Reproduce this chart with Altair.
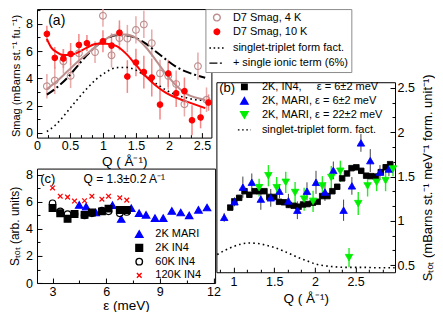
import altair as alt
import pandas as pd

FONT = "Liberation Sans"

# ---------------- panel (a): D7 S_mag ----------------
a4_q = [0.15, 0.27, 0.40, 0.51, 0.635, 0.88, 1.0, 1.13, 1.25, 1.37, 1.5, 1.62, 1.74, 1.865, 1.99, 2.11, 2.235, 2.44, 2.57]
a4_s = [3.42, 3.84, 5.25, 4.18, 5.84, 5.92, 8.59, 5.69, 6.95, 6.92, 7.55, 7.95, 6.58, 4.36, 4.18, 3.58, 2.1, 4.89, 2.43]
a4_err = [0.9, 1.0, 0.9, 0.9, 0.9, 0.8, 0.8, 0.9, 0.9, 1.0, 1.0, 1.0, 1.0, 1.0, 1.0, 1.0, 0.9, 1.0, 0.9]
a10_q = [0.15, 0.27, 0.40, 0.51, 0.635, 0.757, 1.0, 1.13, 1.25, 1.37, 1.5, 1.62, 1.74, 1.865, 1.99, 2.11, 2.235, 2.35, 2.48, 2.6]
a10_s = [7.26, 5.5, 5.45, 5.79, 6.45, 6.58, 6.72, 6.4, 7.35, 4.13, 5.16, 4.46, 4.06, 2.07, 4.36, 2.9, 3.06, 0.92, 1.13, 2.22]
a10_err = [0.6, 0.8, 0.7, 0.8, 0.8, 0.6, 0.8, 0.9, 0.9, 1.2, 1.0, 1.2, 1.4, 1.1, 1.0, 1.0, 1.0, 1.1, 0.8, 0.6]
a_curve_q = [0.15, 0.3, 0.45, 0.6, 0.75, 0.9, 1.05, 1.2, 1.35, 1.5, 1.65, 1.8, 1.95, 2.1, 2.25, 2.4, 2.55]
a_formfactor = [0.1, 0.66, 1.5, 2.38, 3.21, 3.94, 4.46, 4.78, 4.8, 4.6, 4.15, 3.63, 3.16, 2.8, 2.59, 2.43, 2.38]
a_ionic = [2.8, 3.32, 3.99, 4.82, 5.66, 6.38, 6.9, 7.16, 7.16, 6.96, 6.54, 5.97, 5.4, 4.88, 4.51, 4.25, 4.04]
a_fit4 = [3.21, 3.78, 4.46, 5.14, 5.76, 6.38, 6.9, 7.22, 7.22, 6.96, 6.28, 5.34, 4.36, 3.52, 2.9, 2.59, 2.43]
a_fit10_q = [0.15, 0.22, 0.3, 0.4, 0.5, 0.6, 0.75, 0.9, 1.05, 1.2, 1.35, 1.5, 1.65, 1.8, 1.95, 2.1, 2.25, 2.4, 2.55]
a_fit10 = [6.9, 6.23, 5.92, 5.71, 5.71, 5.86, 6.23, 6.54, 6.54, 6.38, 5.81, 4.98, 4.15, 3.47, 2.95, 2.59, 2.33, 2.07, 1.81]
A_SERIES = ["D7 Smag, 4 K", "D7 Smag, 10 K", "singlet-triplet form fact.", "+ single ionic term (6%)"]

# ---------------- panel (b): S_tot vs Q ----------------
b_in4_q = [0.96, 1.01, 1.07, 1.135, 1.195, 1.26, 1.315, 1.38, 1.44, 1.50, 1.56, 1.62, 1.68, 1.74, 1.80, 1.855,
           1.91, 1.975, 2.035, 2.09, 2.155, 2.215, 2.275, 2.335, 2.395, 2.45, 2.51, 2.57, 2.63, 2.69, 2.75, 2.81, 2.87, 2.925]
b_in4_s = [1.15, 1.22, 1.26, 1.335, 1.295, 1.335, 1.335, 1.335, 1.27, 1.27, 1.215, 1.21, 1.18, 1.17, 1.16, 1.185,
           1.19, 1.205, 1.215, 1.28, 1.28, 1.335, 1.385, 1.48, 1.535, 1.595, 1.605, 1.565, 1.51, 1.505, 1.5, 1.55, 1.605, 1.64]
b_m6_q = [0.886, 1.012, 1.115, 1.225, 1.336, 1.458, 1.565, 1.675, 1.785, 1.903, 2.014, 2.124, 2.227, 2.353, 2.455, 2.566, 2.681, 2.80, 2.91]
b_m6_s = [1.04, 1.215, 1.38, 1.435, 1.245, 1.26, 1.335, 1.225, 1.12, 1.335, 1.435, 1.325, 1.57, 1.12, 1.395, 1.88, 1.68, 1.55, 1.585]
b_m6_err = [0.05, 0.05, 0.12, 0.1, 0.12, 0.1, 0.08, 0.08, 0.1, 0.1, 0.13, 0.1, 0.1, 0.12, 0.1, 0.1, 0.13, 0.08, 0.08]
b_m22_q = [1.315, 1.429, 1.531, 1.642, 1.757, 1.868, 1.978, 2.092, 2.202, 2.313, 2.42, 2.533, 2.648, 2.759, 2.869, 2.96]
b_m22_s = [1.375, 1.51, 1.375, 1.435, 1.32, 1.245, 1.22, 1.395, 1.49, 1.56, 0.585, 1.195, 1.395, 1.435, 1.455, 1.585]
b_m22_err = [0.1, 0.12, 0.12, 0.12, 0.12, 0.13, 0.12, 0.11, 0.13, 0.12, 0.11, 0.13, 0.12, 0.1, 0.12, 0.08]
b_ff_q = [0.8, 0.9, 1.0, 1.1, 1.2, 1.3, 1.4, 1.5, 1.6, 1.7, 1.8, 1.9, 2.0, 2.2, 2.4, 2.6, 2.8, 2.98]
b_ff_s = [0.62, 0.67, 0.71, 0.74, 0.75, 0.745, 0.725, 0.70, 0.665, 0.625, 0.585, 0.55, 0.515, 0.485, 0.475, 0.475, 0.47, 0.47]
B_SERIES = ["2K, IN4,\u00a0\u00a0\u00a0\u00a0 \u03b5 = 6\u00b12 meV", "2K, MARI, \u03b5 = 6\u00b12 meV",
            "2K, MARI, \u03b5 = 22\u00b12 meV", "singlet-triplet form. fact."]

# ---------------- panel (c): S_tot vs energy ----------------
c_mari_e = [4.49, 4.88, 5.42, 6.35, 6.84, 7.4, 7.84, 8.23, 8.73, 9.19, 9.67, 10.17, 10.64, 11.16, 11.64]
c_mari_s = [5.77, 5.65, 5.21, 5.75, 4.73, 5.53, 5.16, 5.04, 4.8, 4.8, 5.33, 5.21, 5.0, 5.41, 5.58]
c_in4_e = [3.0, 3.43, 3.84, 4.23, 4.79, 5.2, 5.76, 6.13, 6.76, 7.15]
c_2k_s = [5.55, 5.16, 4.75, 5.1, 5.04, 5.21, 5.3, 5.5, 5.4, 5.4]
c_60k_s = [5.9, 5.3, 5.1, 5.1, 5.0, 5.15, 5.35, 5.3, 5.15, 5.25]
c_120k_s = [7.03, 6.42, 6.35, 6.06, 6.08, 6.42, 6.2, 6.42, 6.3, 6.13]
C_SERIES = ["2K MARI", "2K IN4", "60K IN4", "120K IN4"]

# ---------------- layout: one canvas, one pair of scales per panel ----------------
W, H = 358.2, 274.1
AX = ([0.0, 2.644], [0.0, 174.5])
AY = ([-0.35, 9.08], [128.6, 0.0])
BX = ([0.79, 2.985], [179.5, 358.2])
BY = ([0.42, 2.565], [263.3, 73.2])
CX = ([2.13, 12.09], [0.0, 178.2])
CY = ([0.0, 8.46], [274.1, 159.6])
X_PATH = "M-1,-1L1,1M-1,1L1,-1"


def scale(dom, rng):
    return alt.Scale(domain=dom, range=rng, nice=False, zero=False, clamp=True)


def enc_x(field, sc, axis):
    return alt.X(field, type="quantitative", scale=scale(*sc), axis=axis)


def enc_y(field, sc, axis):
    return alt.Y(field, type="quantitative", scale=scale(*sc), axis=axis)


def lab_axis(orient, offset, values, title, pad, tpad, tsize=13.5, angle=None, baseline=None, ty=None):
    kw = dict(orient=orient, offset=offset, values=values, title=title, labelExpr="'' + datum.value",
              labelPadding=pad, titlePadding=tpad, ticks=False, tickSize=0, domain=True,
              domainColor="black", domainWidth=1, labelFlush=False, labelOverlap=False, grid=False,
              labelFont=FONT, labelFontSize=12.5, labelColor="black", titleFont=FONT,
              titleFontSize=tsize, titleFontWeight="normal", titleColor="black")
    if angle is not None:
        kw["titleAngle"] = angle
    if baseline is not None:
        kw["titleBaseline"] = baseline
    if ty is not None:
        kw["titleY"] = ty
    return alt.Axis(**kw)


def frame_axis(orient, offset):
    return alt.Axis(orient=orient, offset=offset, title="", labels=False, ticks=False, domain=True,
                    domainColor="black", domainWidth=1, grid=False)


def tick_axis(orient, offset, values, test):
    return alt.Axis(orient=orient, offset=offset, title="", labels=False, domain=False, ticks=True,
                    values=values, tickColor="black", tickWidth=1, grid=False,
                    tickSize={"condition": {"test": test, "value": 5}, "value": 3})


def legend(x, y, pad, rowpad, offset, box=False):
    kw = dict(orient="none", legendX=x, legendY=y, title=None, labelFont=FONT, labelFontSize=11,
              labelColor="black", padding=pad, rowPadding=rowpad, labelOffset=offset,
              symbolStrokeWidth=1.4, labelLimit=300)
    if box:
        kw["strokeColor"] = "#8c8c8c"
        kw["fillColor"] = "white"
    return alt.Legend(**kw)


HALF = "abs(datum.value*2 - round(datum.value*2)) < 0.01"
a_xt = [round(i / 6, 4) for i in range(0, 16)]
b_xt = [round(i / 6, 4) for i in range(5, 18)]
b_yt = [round(i / 6, 4) for i in range(3, 16)]

# ---------------- panel (a) layers ----------------
a4_df = pd.DataFrame({"Q": a4_q, "lo": [s - e for s, e in zip(a4_s, a4_err)], "hi": [s + e for s, e in zip(a4_s, a4_err)]})
a10_df = pd.DataFrame({"Q": a10_q, "lo": [s - e for s, e in zip(a10_s, a10_err)], "hi": [s + e for s, e in zip(a10_s, a10_err)]})
a_curves = pd.DataFrame({"Q": a_curve_q, "ff": a_formfactor, "ion": a_ionic, "fit": a_fit4})
a_fit10_df = pd.DataFrame({"Q": a_fit10_q, "fit": a_fit10})
a_pts = pd.DataFrame({"Q": a4_q + a10_q, "S": a4_s + a10_s,
                      "series": [A_SERIES[0]] * len(a4_q) + [A_SERIES[1]] * len(a10_q)})

bars_a4 = alt.Chart(a4_df).mark_rule(color="#e9aaaa", strokeWidth=1.5).encode(
    x=enc_x("Q", AX, lab_axis("bottom", AY[1][0] - H, [0, 0.5, 1, 1.5, 2, 2.5], "Q ( \u00c5\u207b\u00b9)", 2, 2)),
    y=enc_y("lo", AY, lab_axis("left", 0, [0, 2, 4, 6, 8], "Smag (mBarns st.\u207b\u00b9 fu.\u207b\u00b9)",
                               4.5, 4, tsize=11, ty=66.5)),
    y2="hi")
bars_a10 = alt.Chart(a10_df).mark_rule(color="#f28888", strokeWidth=1.5).encode(
    x=enc_x("Q", AX, tick_axis("top", -AY[1][0], a_xt, HALF)),
    y=enc_y("lo", AY, tick_axis("right", -W, list(range(0, 10)), "datum.value % 2 == 0")),
    y2="hi")
ff_a = alt.Chart(a_curves).mark_line(color="black", strokeWidth=1.6, strokeDash=[1.6, 3.2], interpolate="monotone").encode(
    x=enc_x("Q", AX, None), y=enc_y("ff", AY, None))
ion_a = alt.Chart(a_curves).mark_line(color="black", strokeWidth=2, strokeDash=[9, 3, 2, 3], interpolate="monotone").encode(
    x=enc_x("Q", AX, None), y=enc_y("ion", AY, None))
fit4_a = alt.Chart(a_curves).mark_line(color="#bc8f8f", strokeWidth=2, interpolate="monotone").encode(
    x=enc_x("Q", AX, None), y=enc_y("fit", AY, None))
fit10_a = alt.Chart(a_fit10_df).mark_line(color="#ff0000", strokeWidth=2, interpolate="monotone").encode(
    x=enc_x("Q", AX, None), y=enc_y("fit", AY, None))
legA = legend(AX[1][0] + 168.5, 0, 3, 1.2, 7.5, box=True)
pts_a = alt.Chart(a_pts).mark_point(opacity=1, strokeWidth=1.1).encode(
    x=enc_x("Q", AX, frame_axis("top", 0)),
    y=enc_y("S", AY, frame_axis("right", 174.5 - W)),
    fill=alt.Fill("series:N", scale=alt.Scale(domain=A_SERIES, range=["transparent", "#ff0000", "transparent", "transparent"]), legend=legA),
    stroke=alt.Stroke("series:N", scale=alt.Scale(domain=A_SERIES, range=["#bc8f8f", "#ff0000", "black", "black"]), legend=legA),
    shape=alt.Shape("series:N", scale=alt.Scale(domain=A_SERIES, range=["circle", "circle", "stroke", "stroke"]), legend=legA),
    size=alt.Size("series:N", scale=alt.Scale(type="ordinal", domain=A_SERIES, range=[45, 30, 225, 225]), legend=legA),
    strokeDash=alt.StrokeDash("series:N", scale=alt.Scale(domain=A_SERIES, range=[[1, 0], [1, 0], [1.6, 2.6], [8, 2.5, 2, 2.5]]), legend=legA),
)
txt_a = alt.Chart(pd.DataFrame({"Q": [0.17], "S": [8.2], "t": ["(a)"]})).mark_text(
    font=FONT, fontSize=14, align="left", baseline="middle", color="black").encode(
    x=enc_x("Q", AX, None), y=enc_y("S", AY, None), text="t:N")

# ---------------- panel (b) layers ----------------
b6_df = pd.DataFrame({"Q": b_m6_q, "lo": [s - e for s, e in zip(b_m6_s, b_m6_err)], "hi": [s + e for s, e in zip(b_m6_s, b_m6_err)]})
b22_df = pd.DataFrame({"Q": b_m22_q, "lo": [s - e for s, e in zip(b_m22_s, b_m22_err)], "hi": [s + e for s, e in zip(b_m22_s, b_m22_err)]})
b_pts = pd.DataFrame({"Q": b_in4_q + b_m6_q + b_m22_q, "S": b_in4_s + b_m6_s + b_m22_s,
                      "series": [B_SERIES[0]] * len(b_in4_q) + [B_SERIES[1]] * len(b_m6_q) + [B_SERIES[2]] * len(b_m22_q)})
b_ff_df = pd.DataFrame({"Q": b_ff_q, "S": b_ff_s})

bars_b6 = alt.Chart(b6_df).mark_rule(color="#444444", strokeWidth=1).encode(
    x=enc_x("Q", BX, lab_axis("bottom", BY[1][0] - H, [1, 1.5, 2, 2.5], "Q ( \u00c5\u207b\u00b9)", 3, 4)),
    y=enc_y("lo", BY, lab_axis("right", 0, [0.5, 1, 1.5, 2, 2.5],
                               "S\u209c\u2092\u209c (mBarns st.\u207b\u00b9 meV\u207b\u00b9 form. unit\u207b\u00b9)",
                               2, 7, tsize=13, angle=270, baseline="top")),
    y2="hi")
bars_b22 = alt.Chart(b22_df).mark_rule(color="#22ee22", strokeWidth=1.4).encode(
    x=enc_x("Q", BX, tick_axis("top", -BY[1][0], b_xt, HALF)),
    y=enc_y("lo", BY, tick_axis("left", -W, b_yt, HALF)),
    y2="hi")
ff_b = alt.Chart(b_ff_df).mark_line(color="black", strokeWidth=1.6, strokeDash=[1.6, 3.2], interpolate="monotone").encode(
    x=enc_x("Q", BX, None), y=enc_y("S", BY, None))
legB = legend(200, 72.4, 0, 1, 10)
pts_b = alt.Chart(b_pts).mark_point(opacity=1, strokeWidth=1).encode(
    x=enc_x("Q", BX, frame_axis("top", -BY[1][1])),
    y=enc_y("S", BY, frame_axis("left", -BX[1][0])),
    fill=alt.Fill("series:N", scale=alt.Scale(domain=B_SERIES, range=["black", "#0000ff", "#00ee00", "transparent"]), legend=legB),
    stroke=alt.Stroke("series:N", scale=alt.Scale(domain=B_SERIES, range=["black", "#0000ff", "#00ee00", "black"]), legend=legB),
    shape=alt.Shape("series:N", scale=alt.Scale(domain=B_SERIES, range=["square", "triangle-up", "triangle-down", "stroke"]), legend=legB),
    size=alt.Size("series:N", scale=alt.Scale(type="ordinal", domain=B_SERIES, range=[30, 55, 55, 169]), legend=legB),
    strokeDash=alt.StrokeDash("series:N", scale=alt.Scale(domain=B_SERIES, range=[[1, 0], [1, 0], [1, 0], [1.6, 2.6]]), legend=legB),
)
txt_b = alt.Chart(pd.DataFrame({"Q": [0.825], "S": [2.5], "t": ["(b)"]})).mark_text(
    font=FONT, fontSize=13, align="left", baseline="middle", color="black").encode(
    x=enc_x("Q", BX, None), y=enc_y("S", BY, None), text="t:N")

# ---------------- panel (c) layers ----------------
c_pts = pd.DataFrame({"E": c_mari_e + c_in4_e * 3, "S": c_mari_s + c_2k_s + c_60k_s + c_120k_s,
                      "series": [C_SERIES[0]] * len(c_mari_e) + [C_SERIES[1]] * len(c_in4_e)
                      + [C_SERIES[2]] * len(c_in4_e) + [C_SERIES[3]] * len(c_in4_e)})
legC = legend(96.8, 219.6, 0, 0.8, 10.6)
pts_c = alt.Chart(c_pts).mark_point(opacity=1, strokeWidth=1.2).encode(
    x=enc_x("E", CX, lab_axis("bottom", 0, [3, 6, 9, 12], "\u03b5 (meV)", 2.5, 0)),
    y=enc_y("S", CY, lab_axis("left", 0, [0, 2, 4, 6, 8], "S\u209c\u2092\u209c (arb. units)", 4.5, 4, tsize=12)),
    fill=alt.Fill("series:N", scale=alt.Scale(domain=C_SERIES, range=["#0000ff", "black", "transparent", "transparent"]), legend=legC),
    stroke=alt.Stroke("series:N", scale=alt.Scale(domain=C_SERIES, range=["#0000ff", "black", "black", "#ff0000"]), legend=legC),
    shape=alt.Shape("series:N", scale=alt.Scale(domain=C_SERIES, range=["triangle-up", "square", "circle", X_PATH]), legend=legC),
    size=alt.Size("series:N", scale=alt.Scale(type="ordinal", domain=C_SERIES, range=[55, 45, 42, 22]), legend=legC),
)
txt_c1 = alt.Chart(pd.DataFrame({"E": [2.31], "S": [7.67], "t": ["(c)"]})).mark_text(
    font=FONT, fontSize=13, align="left", baseline="middle", color="black").encode(
    x=enc_x("E", CX, tick_axis("top", -H, [3, 4.5, 6, 7.5, 9, 10.5, 12], "datum.value % 3 == 0")),
    y=enc_y("S", CY, tick_axis("right", -W, list(range(0, 9)), "datum.value % 2 == 0")),
    text="t:N")
txt_c2 = alt.Chart(pd.DataFrame({"E": [4.73], "S": [7.67], "t": ["Q = 1.3\u00b10.2 A\u207b\u00b9"]})).mark_text(
    font=FONT, fontSize=12, align="left", baseline="middle", color="black").encode(
    x=enc_x("E", CX, frame_axis("top", -CY[1][1])),
    y=enc_y("S", CY, frame_axis("right", CX[1][1] - W)),
    text="t:N")

layers = [bars_a4, bars_a10, ff_a, ion_a, fit4_a, fit10_a, pts_a, txt_a,
          bars_b6, bars_b22, ff_b, pts_b, txt_b,
          pts_c, txt_c1, txt_c2]

chart = alt.layer(*layers).resolve_scale(
    x="independent", y="independent", fill="independent", stroke="independent",
    shape="independent", size="independent", strokeDash="independent"
).resolve_axis(x="independent", y="independent").resolve_legend(
    fill="independent", stroke="independent", shape="independent", size="independent", strokeDash="independent"
).properties(width=W, height=H, padding=0).configure_view(strokeWidth=0)

chart.save("out.html", embed_options={"renderer": "svg", "actions": False})
